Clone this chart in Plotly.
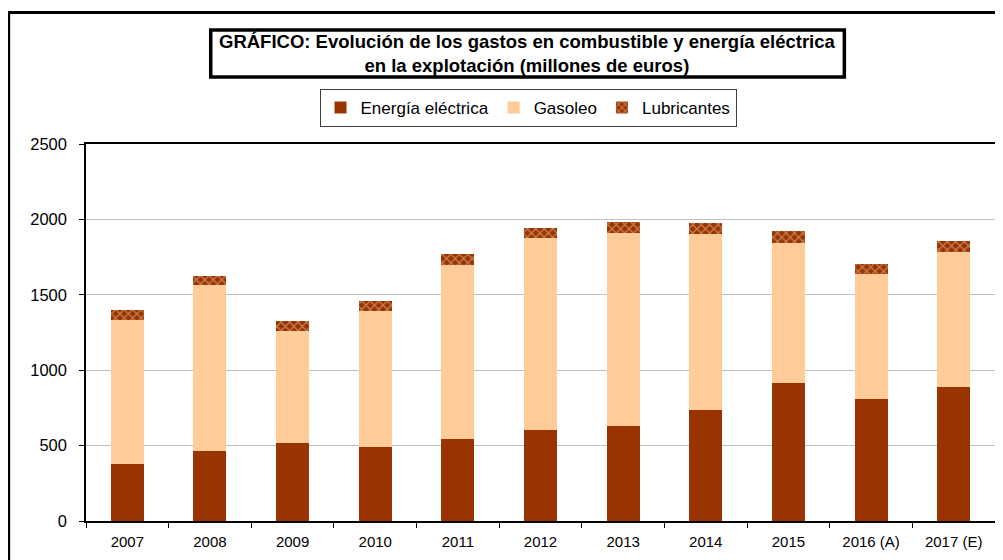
import plotly.graph_objects as go

years = ["2007", "2008", "2009", "2010", "2011", "2012", "2013", "2014", "2015", "2016 (A)", "2017 (E)"]
energia_electrica = [380, 465, 520, 493, 545, 605, 632, 735, 918, 812, 888]
gasoleo = [956, 1097, 739, 899, 1155, 1270, 1278, 1169, 928, 826, 899]
lubricantes = [66, 62, 64, 64, 73, 71, 71, 73, 75, 69, 73]
y_ticks = [0, 500, 1000, 1500, 2000, 2500]

# page body has an 8px margin; work in screen pixels and shift
OFF = 8
W, H = 1003 - OFF, 560 - OFF
L, R, T, B = 86 - OFF, 6, 144 - OFF, 39
PW, PH = W - L - R, H - T - B


def px_x(p):
    return (p - OFF - L) / PW


def px_y(p):
    return (H - B - (p - OFF)) / PH


FONT = "Liberation Sans, Arial, sans-serif"
BROWN = "#993300"
PEACH = "#FFCC99"

fig = go.Figure()
fig.add_trace(go.Bar(x=years, y=energia_electrica, name="Energía eléctrica",
                     marker=dict(color=BROWN, line=dict(width=0))))
fig.add_trace(go.Bar(x=years, y=gasoleo, name="Gasoleo",
                     marker=dict(color=PEACH, line=dict(width=0))))
fig.add_trace(go.Bar(x=years, y=lubricantes, name="Lubricantes",
                     marker=dict(color=BROWN, line=dict(width=0),
                                 pattern=dict(shape="x", bgcolor=BROWN, fgcolor="#F3C79E",
                                              size=6, solidity=0.4))))

fig.update_layout(
    width=W, height=H,
    margin=dict(l=L, r=R, t=T, b=B),
    barmode="stack", bargap=0.6,
    paper_bgcolor="white", plot_bgcolor="white",
    font=dict(family=FONT, color="black", size=16),
    showlegend=True,
    legend=dict(orientation="h", x=px_x(529), xanchor="center", y=px_y(89), yanchor="top",
                traceorder="normal", bordercolor="#404040", borderwidth=1,
                bgcolor="white", font=dict(size=17, family=FONT), itemwidth=30),
    xaxis=dict(type="category", showline=True, linecolor="black", linewidth=1.5, mirror=True,
               ticks="outside", ticklen=5, tickcolor="black", tickson="boundaries",
               tickfont=dict(size=15, family=FONT), showgrid=False, ticklabelstandoff=6),
    yaxis=dict(range=[0, 2500], tickvals=y_ticks, showline=True, linecolor="black", linewidth=1.5,
               mirror=True, ticks="outside", ticklen=5, tickcolor="black",
               showgrid=True, gridcolor="#C0C0C0", gridwidth=1,
               tickfont=dict(size=16.5, family=FONT), zeroline=False, ticklabelstandoff=9),
    shapes=[
        dict(type="rect", xref="paper", yref="paper",
             x0=px_x(8.5), x1=px_x(1015), y0=px_y(575), y1=px_y(12.5),
             line=dict(color="black", width=3), fillcolor="rgba(0,0,0,0)", layer="below"),
        dict(type="rect", xref="paper", yref="paper",
             x0=px_x(211), x1=px_x(846), y0=px_y(77), y1=px_y(30),
             line=dict(color="black", width=3.5), fillcolor="white"),
    ],
    annotations=[
        dict(xref="paper", yref="paper", x=px_x(528.5), y=px_y(54), xanchor="center", yanchor="middle",
             text="<b>GRÁFICO: Evolución de los gastos en combustible y energía eléctrica<br>en la explotación (millones de euros)</b>",
             showarrow=False, align="center", font=dict(size=18.5, family=FONT, color="black")),
    ],
)

fig.write_html("out.html")
